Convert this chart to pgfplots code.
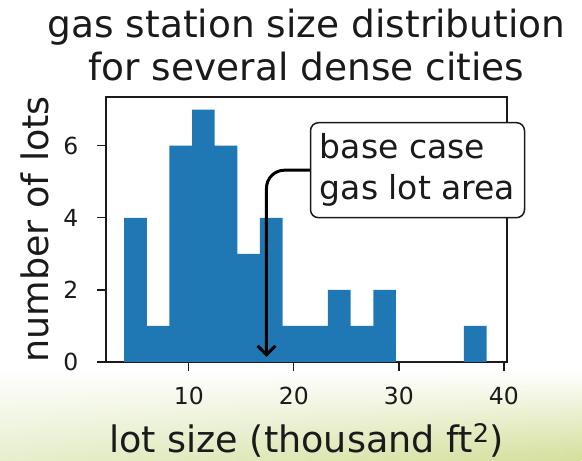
\documentclass[border=0pt]{standalone}
\usepackage{fontspec}
\setmainfont{DejaVu Sans}
\usepackage{pgfplots}
\pgfplotsset{compat=1.18}
\usetikzlibrary{arrows.meta, fadings}

\definecolor{barblue}{HTML}{1F77B4}
\definecolor{inkgray}{HTML}{1A1A1A}
\definecolor{lowleft}{RGB}{230,239,205}
\definecolor{lowright}{RGB}{212,223,155}

% lot-size histogram: left bin edges (thousand ft^2) and counts;
% the last row closes the final bin
\pgfplotstableread{
edge   count
3.84   4
6.00   1
8.15   6
10.31  7
12.47  6
14.63  3
16.78  4
18.94  1
21.10  1
23.25  2
25.41  1
27.57  2
29.72  0
31.88  0
34.04  0
36.19  1
38.35  0
}\lots

\begin{document}
\begin{tikzpicture}[x=1pt,y=1pt]
\useasboundingbox (0,0) rectangle (582,461);
\fill[white] (0,0) rectangle (582,461);
% pale green wash along the bottom edge
\shade[left color=lowleft, right color=lowright, path fading=north] (0,0) rectangle (582,90);

\begin{axis}[
  at={(106pt,99pt)}, anchor=south west,
  scale only axis, width=401pt, height=265pt,
  xmin=2.12, xmax=40.3, ymin=0, ymax=7.35,
  xtick={10,20,30,40}, ytick={0,2,4,6},
  tick pos=left, tick align=outside,
  major tick length=8.5pt,
  every tick/.style={line width=1.4pt, inkgray},
  axis line style={line width=1.4pt, inkgray},
  /pgf/number format/assume math mode=true,
  tick label style={font=\fontsize{23.5}{28}\selectfont, text=inkgray, inner sep=0pt},
  xticklabel style={anchor=north, yshift=-16pt},
  yticklabel style={anchor=east, xshift=-19pt},
  xlabel={lot size (thousand ft\textsuperscript{2})},
  ylabel={number of lots},
  every axis x label/.style={at={(rel axis cs:0.5,0)}, anchor=base, yshift=-90pt,
    font=\fontsize{36.5}{44}\selectfont, text=inkgray, inner sep=0pt},
  every axis y label/.style={at={(rel axis cs:0,0.5)}, rotate=90, anchor=base, yshift=57pt,
    font=\fontsize{36.5}{44}\selectfont, text=inkgray, inner sep=0pt},
]
\addplot[ybar interval, fill=barblue, draw=none] table[x=edge, y=count] {\lots};
\coordinate (tip) at (axis cs:17.4,0.14);
\coordinate (src) at (axis cs:21.52,5.32);
\end{axis}

% title
\node[anchor=base, font=\fontsize{37.5}{45}\selectfont, text=inkgray, inner sep=0pt]
  at (306.5,423) {gas station size distribution};
\node[anchor=base, font=\fontsize{37.5}{45}\selectfont, text=inkgray, inner sep=0pt]
  at (306.5,380) {for several dense cities};

% annotation arrow and box
\draw[line width=3pt, black, rounded corners=18pt,
      -{Straight Barb[length=9pt, width=18pt, line width=3pt]}]
  (src) -| (tip);
\node[anchor=west, draw=inkgray, line width=1.5pt, fill=white, rounded corners=8pt,
      minimum width=214pt, minimum height=95pt, inner sep=0pt, align=left,
      font=\fontsize{33}{41}\selectfont, text=inkgray]
  at (src) {base case\\gas lot area};
\end{tikzpicture}
\end{document}
